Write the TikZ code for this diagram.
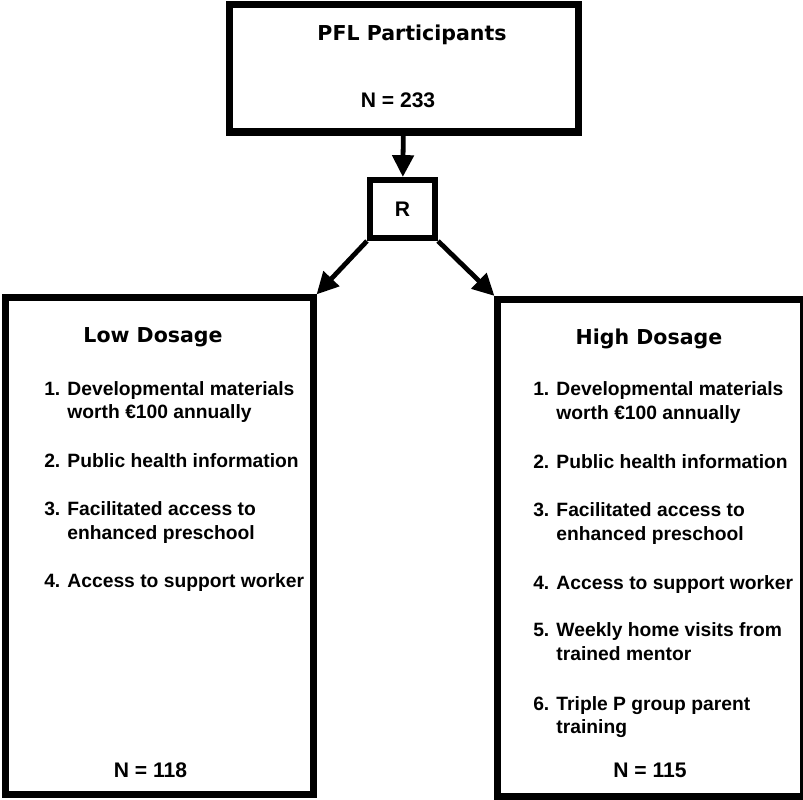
\documentclass[tikz,border=0pt]{standalone}
\usepackage{fontspec}
\setmainfont{Liberation Sans}
\newfontfamily\headfont{DejaVu Sans}
\usetikzlibrary{arrows.meta}
\tikzset{
every node/.style={font=\bfseries\fontsize{15}{18}\selectfont, inner sep=0}
, groupbox/.style={draw, line width=5pt}
, randbox/.style={draw, line width=4.3pt}
, flowarrow/.style={line width=3.4pt, -{Triangle[length=15.5pt, width=15pt]}}
, itemtext/.style={anchor=base west, font=\bfseries\fontsize{13.7}{17}\selectfont}
, headtext/.style={anchor=base, font=\headfont\bfseries\fontsize{14.6}{17}\selectfont}
, counttext/.style={anchor=base}}

\begin{document}
\begin{tikzpicture}[x=0.025cm, y=-0.025cm]
\useasboundingbox (0,0) rectangle (803,800);
% boxes
\node[groupbox, minimum width=8.7cm, minimum height=3.175cm] at (404,68.5) (pfl) {};
\node[randbox, minimum width=1.625cm, minimum height=1.45cm] at (402.5,209) (rand) {R};
\node[groupbox, minimum width=7.675cm, minimum height=12.4cm] at (159.5,546) (low) {};
\node[groupbox, minimum width=7.625cm, minimum height=12.425cm] at (650.5,548) (high) {};
% top box text
\node[headtext] at (412,41) (pfltitle) {PFL Participants};
\node[counttext] at (398,108) (pfln) {N = 233};
% low dosage
\node[headtext] at (153,343) (lowtitle) {Low Dosage};
\node[itemtext] at (44,395) (lo1a) {1. Developmental materials};
\node[itemtext] at (44,418) (lo1b) {\phantom{1. }worth €100 annually};
\node[itemtext] at (44,467) (lo2) {2. Public health information};
\node[itemtext] at (44,515) (lo3a) {3. Facilitated access to};
\node[itemtext] at (44,539) (lo3b) {\phantom{3. }enhanced preschool};
\node[itemtext] at (44,587) (lo4) {4. Access to support worker};
\node[counttext] at (150.5,777) (lown) {N = 118};
% high dosage
\node[headtext] at (649,345) (hightitle) {High Dosage};
\node[itemtext] at (533,396) (hi1a) {1. Developmental materials};
\node[itemtext] at (533,419) (hi1b) {\phantom{1. }worth €100 annually};
\node[itemtext] at (533,468) (hi2) {2. Public health information};
\node[itemtext] at (533,516) (hi3a) {3. Facilitated access to};
\node[itemtext] at (533,540) (hi3b) {\phantom{3. }enhanced preschool};
\node[itemtext] at (533,589) (hi4) {4. Access to support worker};
\node[itemtext] at (533,636) (hi5a) {5. Weekly home visits from};
\node[itemtext] at (533,660) (hi5b) {\phantom{5. }trained mentor};
\node[itemtext] at (533,710) (hi6a) {6. Triple P group parent};
\node[itemtext] at (533,733) (hi6b) {\phantom{6. }training};
\node[counttext] at (650,777) (highn) {N = 115};
% arrows
\draw[flowarrow] (pfl) -- (rand);
\draw[flowarrow] (rand.south west) -- (low.north east);
\draw[flowarrow] (rand.south east) -- (high.north west);
\end{tikzpicture}
\end{document}
